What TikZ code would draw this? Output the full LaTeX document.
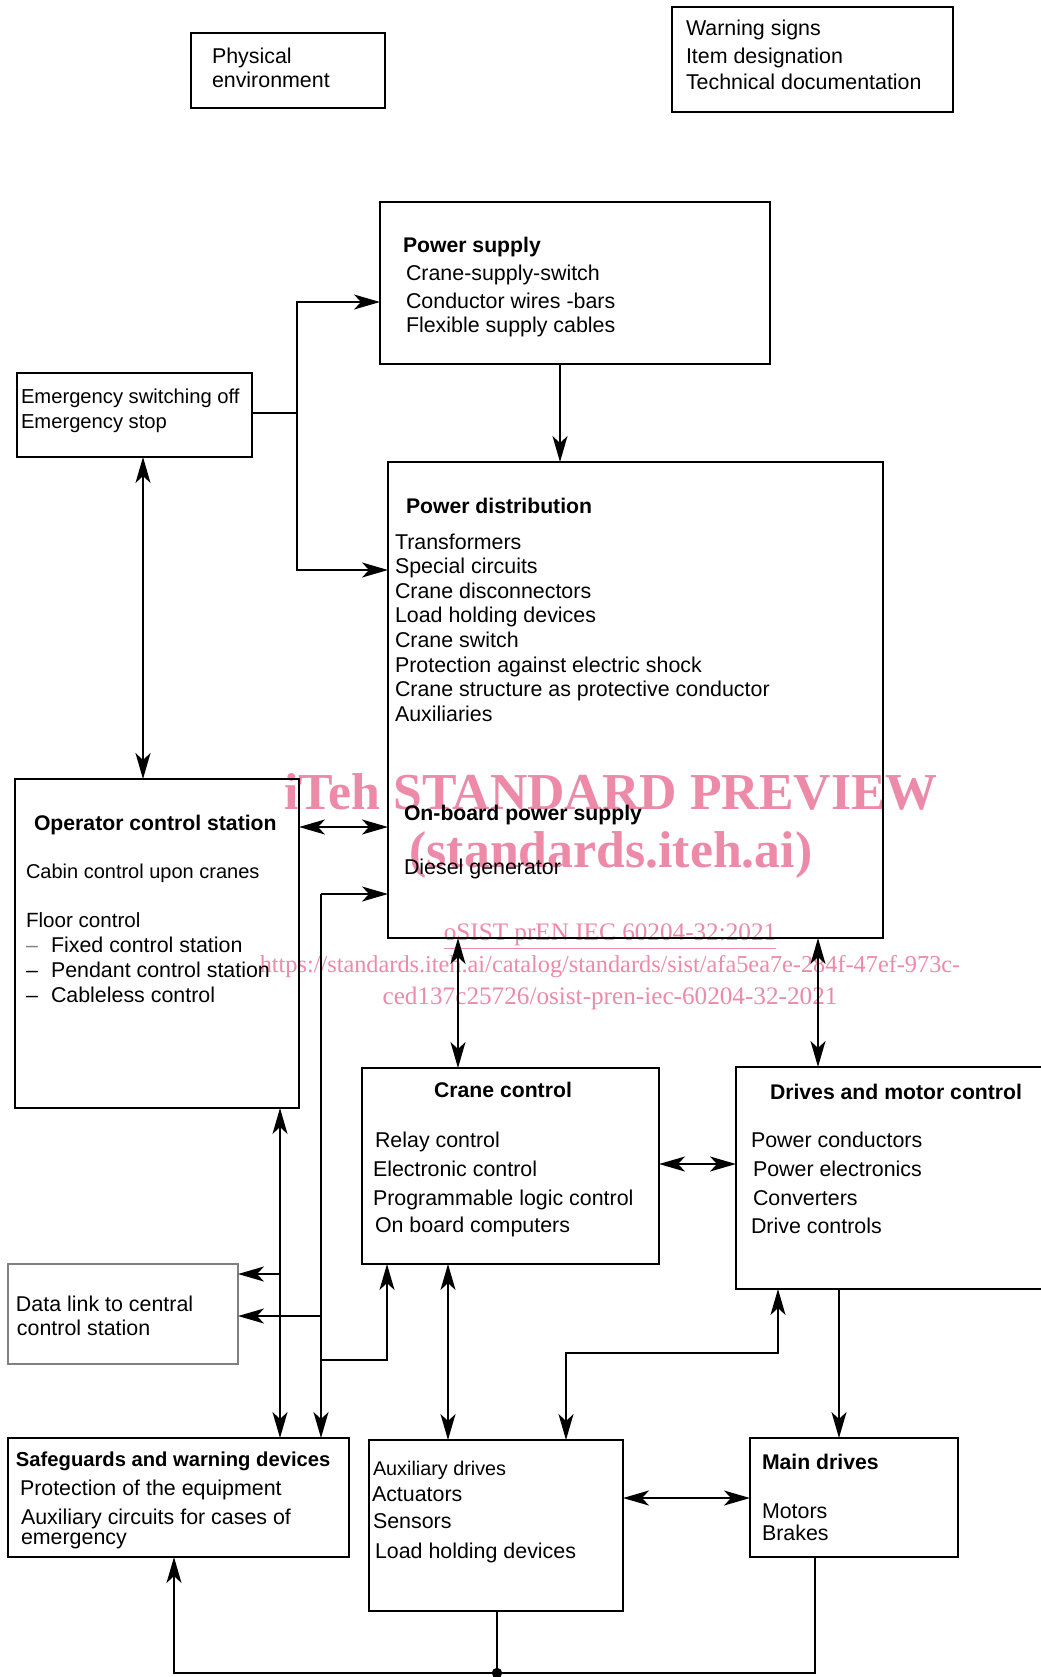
\documentclass[tikz,border=0pt]{standalone}
\usepackage{fontspec}
\setmainfont{Liberation Sans}
\newfontfamily\wmfont{Liberation Serif}
\usetikzlibrary{arrows.meta}
\definecolor{wm}{RGB}{236,138,168}
\newcommand\mkbox[6]{\node[#6,minimum width={(#4-#2)*0.5pt},minimum height={(#5-#3)*0.5pt}] (#1) at ({(#2+#4)/2},{(#3+#5)/2}) {};}
\begin{document}
\begin{tikzpicture}[x=0.5pt,y=-0.5pt,
  >={Stealth[length=13pt,width=7.5pt,inset=3.5pt]},
  boxst/.style={draw,rectangle,line width=1.1pt,inner sep=0pt,outer sep=0pt},
  thinbox/.style={draw=gray,rectangle,line width=0.6pt,inner sep=0pt,outer sep=0pt},
  txt/.style={anchor=base west,inner sep=0pt,outer sep=0pt,font=\fontsize{10.7pt}{12.3pt}\selectfont},
  ttl/.style={txt,font=\fontsize{10.6pt}{12.3pt}\selectfont\bfseries},
  conn/.style={line width=0.9pt},
  wmbig/.style={anchor=base,inner sep=0pt,text=wm,font=\wmfont\bfseries\fontsize{25.9pt}{30pt}\selectfont},
  wmsmall/.style={anchor=base,inner sep=0pt,text=wm,font=\wmfont\fontsize{12.6pt}{14pt}\selectfont},
]
\useasboundingbox (0,0) rectangle (1040,1677);
\fill[white] (0,0) rectangle (1040,1677);

% watermark (underneath)
\node[wmbig] (wm1) at (611,809) {iTeh STANDARD PREVIEW};
\node[wmbig] (wm2) at (611,867) {(standards.iteh.ai)};
\node[wmsmall] (wm3) at (610,940) {\underline{oSIST prEN IEC 60204-32:2021}};
\node[wmsmall,font=\wmfont\fontsize{12.15pt}{14pt}\selectfont] (wm4) at (610,972) {https://standards.iteh.ai/catalog/standards/sist/afa5ea7e-284f-47ef-973c-};
\node[wmsmall] (wm5) at (610,1004) {ced137c25726/osist-pren-iec-60204-32-2021};

% boxes
\mkbox{phys}{191}{33}{385}{108}{boxst}
\mkbox{warn}{672}{7}{953}{112}{boxst}
\mkbox{psup}{380}{202}{770}{364}{boxst}
\mkbox{emer}{17}{373}{252}{457}{boxst}
\mkbox{pd}{388}{462}{883}{938}{boxst}
\mkbox{op}{15}{779}{299}{1108}{boxst}
\mkbox{cc}{362}{1068}{659}{1264}{boxst}
\mkbox{dmc}{736}{1067}{1060}{1289}{boxst}
\mkbox{dl}{8}{1264}{238}{1364}{thinbox}
\mkbox{safe}{8}{1438}{349}{1557}{boxst}
\mkbox{aux}{369}{1440}{623}{1611}{boxst}
\mkbox{main}{750}{1438}{958}{1557}{boxst}

% texts
\node[txt] (ph1) at (212,63) {Physical};
\node[txt] (ph2) at (212,87) {environment};
\node[txt] (wa1) at (686,35) {Warning signs};
\node[txt] (wa2) at (686,63) {Item designation};
\node[txt] (wa3) at (686,89) {Technical documentation};
\node[ttl] (ps0) at (403,252) {Power supply};
\node[txt] (ps1) at (406,280) {Crane-supply-switch};
\node[txt] (ps2) at (406,308) {Conductor wires -bars};
\node[txt] (ps3) at (406,332) {Flexible supply cables};
\node[txt,font=\fontsize{10.1pt}{12.3pt}\selectfont] (em1) at (21,403) {Emergency switching off};
\node[txt,font=\fontsize{10.1pt}{12.3pt}\selectfont] (em2) at (21,428) {Emergency stop};
\node[ttl] (pd0) at (406,513) {Power distribution};
\node[txt] (pd1) at (395,549) {Transformers};
\node[txt] (pd2) at (395,573.6) {Special circuits};
\node[txt] (pd3) at (395,598.3) {Crane disconnectors};
\node[txt] (pd4) at (395,622.9) {Load holding devices};
\node[txt] (pd5) at (395,647.6) {Crane switch};
\node[txt] (pd6) at (395,672.2) {Protection against electric shock};
\node[txt] (pd7) at (395,696.9) {Crane structure as protective conductor};
\node[txt] (pd8) at (395,721.5) {Auxiliaries};
\node[ttl] (pd9) at (404,820) {On-board power supply};
\node[txt] (pd10) at (404,874) {Diesel generator};
\node[ttl] (op0) at (34,830) {Operator control station};
\node[txt,font=\fontsize{10.0pt}{12.3pt}\selectfont] (op1) at (26,878) {Cabin control upon cranes};
\node[txt,font=\fontsize{10.3pt}{12.3pt}\selectfont] (op2) at (26,927) {Floor control};
\node[txt,text=gray] (op3d) at (26,952) {--};
\node[txt] (op3) at (51,952) {Fixed control station};
\node[txt] (op4d) at (26,977) {--};
\node[txt] (op4) at (51,977) {Pendant control station};
\node[txt] (op5d) at (26,1002) {--};
\node[txt] (op5) at (51,1002) {Cableless control};
\node[ttl,anchor=base] (cc0) at (503,1097) {Crane control};
\node[txt] (cc1) at (375,1147) {Relay control};
\node[txt] (cc2) at (373,1176) {Electronic control};
\node[txt] (cc3) at (373,1205) {Programmable logic control};
\node[txt] (cc4) at (375,1232) {On board computers};
\node[ttl] (dm0) at (770,1099) {Drives and motor control};
\node[txt] (dm1) at (751,1147) {Power conductors};
\node[txt] (dm2) at (753,1176) {Power electronics};
\node[txt] (dm3) at (753,1205) {Converters};
\node[txt] (dm4) at (751,1233) {Drive controls};
\node[txt] (dl1) at (16,1311) {Data link to central};
\node[txt] (dl2) at (17,1335) {control station};
\node[ttl,font=\fontsize{10.1pt}{12.3pt}\selectfont\bfseries] (sf0) at (16,1466) {Safeguards and warning devices};
\node[txt] (sf1) at (20,1495) {Protection of the equipment};
\node[txt] (sf2) at (21,1524) {Auxiliary circuits for cases of};
\node[txt] (sf3) at (21,1544) {emergency};
\node[txt,font=\fontsize{9.9pt}{12.3pt}\selectfont] (ax1) at (373,1475) {Auxiliary drives};
\node[txt] (ax2) at (372,1501) {Actuators};
\node[txt] (ax3) at (373,1528) {Sensors};
\node[txt] (ax4) at (375,1558) {Load holding devices};
\node[ttl] (md0) at (762,1469) {Main drives};
\node[txt] (md1) at (762,1518) {Motors};
\node[txt] (md2) at (762,1540) {Brakes};

% helper coordinates
\coordinate (j1) at (297,413);
\coordinate (j1t) at (297,302);
\coordinate (j1b) at (297,570);
\coordinate (xps) at (560,0);
\coordinate (xem) at (143,0);
\coordinate (yop) at (0,827);
\coordinate (k1) at (321,894);
\coordinate (k2) at (321,1316);
\coordinate (k3) at (321,1360);
\coordinate (k4) at (387,1360);
\coordinate (m1) at (280,1274);
\coordinate (xcc) at (458,0);
\coordinate (xdm) at (818,0);
\coordinate (ycd) at (0,1164);
\coordinate (xca) at (448,0);
\coordinate (q1) at (778,1353);
\coordinate (q2) at (566,1353);
\coordinate (xmd) at (839,0);
\coordinate (yam) at (0,1498);
\coordinate (r) at (497,1673);
\coordinate (s1) at (815,1673);
\coordinate (s2) at (174,1673);

% connectors
\draw[conn] (emer.east |- j1) -- (j1);
\draw[conn,->] (j1) -- (j1t) -- (psup.west |- j1t);
\draw[conn,->] (j1) -- (j1b) -- (pd.west |- j1b);
\draw[conn,->] (psup.south -| xps) -- (pd.north -| xps);
\draw[conn,<->] (emer.south -| xem) -- (op.north -| xem);
\draw[conn,<->] (op.east |- yop) -- (pd.west |- yop);
\draw[conn,->] (k1) -- (pd.west |- k1);
\draw[conn,->] (k1) -- (safe.north -| k1);
\draw[conn,->] (k2) -- (dl.east |- k2);
\draw[conn,->] (k3) -- (k4) -- (cc.south -| k4);
\draw[conn,<->] (op.south -| m1) -- (safe.north -| m1);
\draw[conn,->] (m1) -- (dl.east |- m1);
\draw[conn,<->] (pd.south -| xcc) -- (cc.north -| xcc);
\draw[conn,<->] (pd.south -| xdm) -- (dmc.north -| xdm);
\draw[conn,<->] (cc.east |- ycd) -- (dmc.west |- ycd);
\draw[conn,<->] (cc.south -| xca) -- (aux.north -| xca);
\draw[conn,<->] (dmc.south -| q1) -- (q1) -- (q2) -- (aux.north -| q2);
\draw[conn,->] (dmc.south -| xmd) -- (main.north -| xmd);
\draw[conn,<->] (aux.east |- yam) -- (main.west |- yam);
\draw[conn] (aux.south -| r) -- (r);
\draw[conn,->] (main.south -| s1) -- (s1) -- (s2) -- (safe.south -| s2);
\fill (r) circle (2.6pt);
\end{tikzpicture}
\end{document}
